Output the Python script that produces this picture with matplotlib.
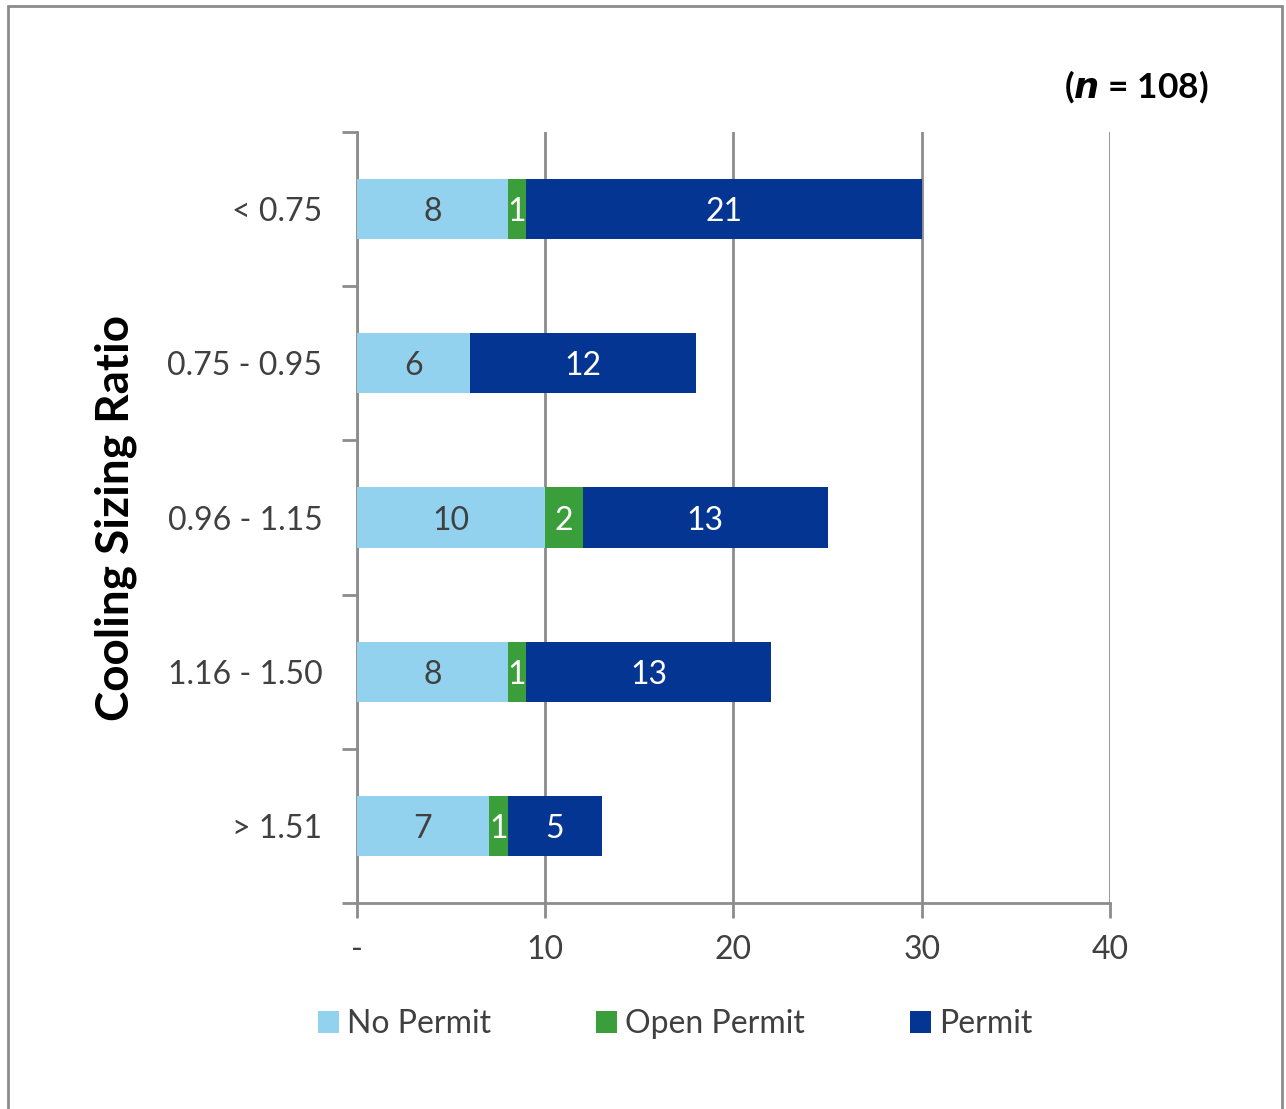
import matplotlib
matplotlib.use("Agg")
import matplotlib.pyplot as plt
from matplotlib.patches import Rectangle, Patch
import numpy as np

categories = ["< 0.75", "0.75 - 0.95", "0.96 - 1.15", "1.16 - 1.50", "> 1.51"]
no_permit = [8, 6, 10, 8, 7]
open_permit = [1, 0, 2, 1, 1]
permit = [21, 12, 13, 13, 5]
series_names = ["No Permit", "Open Permit", "Permit"]
colors = ["#93D2EF", "#3A9E3A", "#053592"]
label_colors = ["#404040", "white", "white"]
x_ticks = [0, 10, 20, 30, 40]
x_tick_labels = ["-", "10", "20", "30", "40"]

plt.rcParams["font.family"] = ["Lato", "DejaVu Sans"]

fig = plt.figure(figsize=(12.86, 11.09), dpi=100)
ax = fig.add_axes([0.2776, 0.1857, 0.5855, 0.6953])

y = np.arange(len(categories))
left = np.zeros(len(categories))
for vals, name, col, lc in zip([no_permit, open_permit, permit], series_names, colors, label_colors):
    vals = np.array(vals, dtype=float)
    ax.barh(y, vals, left=left, height=0.39, color=col, label=name, zorder=3)
    for yi, (l, v) in enumerate(zip(left, vals)):
        if v > 0:
            ax.text(l + v / 2, yi, f"{int(v)}", ha="center", va="center_baseline",
                    fontsize=23, color=lc, zorder=4)
    left += vals

ax.set_ylim(len(categories) - 0.5, -0.5)
ax.set_xlim(0, 40)
ax.set_yticks(y)
ax.set_yticklabels(categories, fontsize=23, color="#404040")
ax.set_yticks(np.arange(-0.5, len(categories)), minor=True)
ax.tick_params(axis="y", which="major", length=0, pad=25)
ax.tick_params(axis="y", which="minor", length=11, width=2, color="#8C8C8C", direction="out")
ax.set_xticks(x_ticks)
ax.set_xticklabels(x_tick_labels, fontsize=23, color="#404040")
ax.tick_params(axis="x", length=11, width=2, color="#8C8C8C", direction="out", pad=12)

for side in ["top", "right"]:
    ax.spines[side].set_visible(False)
for side in ["left", "bottom"]:
    ax.spines[side].set_color("#8C8C8C")
    ax.spines[side].set_linewidth(2)

ax.grid(axis="x", color="#8C8C8C", linewidth=2, zorder=0)
ax.set_axisbelow(True)

ax.set_ylabel("Cooling Sizing Ratio", fontsize=33, fontweight="bold", labelpad=22)

fig.text(0.9395, 0.922, r"($\mathbfit{n}$ = 108)", fontsize=25.5, fontweight="bold",
         ha="right", va="center")

handles = [Patch(facecolor=c, edgecolor="none") for c in colors]
fig.legend(handles, series_names, loc="center", bbox_to_anchor=(0.525, 0.0765), ncol=3,
           frameon=False, fontsize=23, handlelength=0.65, handleheight=0.65,
           handletextpad=0.25, columnspacing=3.3, labelcolor="#404040")

fig.patches.append(Rectangle((0.006, -0.01), 0.991, 1.005, transform=fig.transFigure,
                             fill=False, edgecolor="#8C8C8C", linewidth=2))

fig.savefig("out.png", dpi=100)
